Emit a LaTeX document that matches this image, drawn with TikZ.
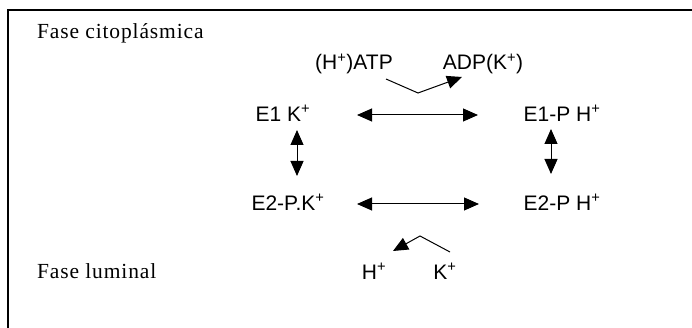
\documentclass[tikz,border=0pt]{standalone}
\usepackage{fontspec}
\setmainfont{Liberation Serif}
\newfontfamily\labelfont{Liberation Sans}
\newfontfamily\phasefont[LetterSpace=4]{Liberation Serif}
\usetikzlibrary{arrows.meta}
\newcommand{\ion}[1]{\textsuperscript{#1}}
\tikzset{
  species/.style={font=\labelfont\fontsize{21}{25}\selectfont, inner sep=0pt, anchor=center},
  phase/.style={font=\phasefont\fontsize{21.5}{26}\selectfont, inner sep=0pt, anchor=west},
  react/.style={line width=1pt, {Triangle[length=15pt,width=13pt]}-{Triangle[length=15pt,width=13pt]}},
  flow/.style={line width=1pt, -{Triangle[length=15pt,width=13pt]}},
  frame/.style={line width=1.4pt}
}
\begin{document}
\begin{tikzpicture}[x=1pt,y=-1pt]
  \useasboundingbox (0,0) rectangle (692,328);
  % open frame: top and left edges only
  \coordinate (fbl) at (8,328);
  \coordinate (ftl) at (8,10);
  \coordinate (ftr) at (692,10);
  \draw[frame] (fbl) -- (ftl) -- (ftr);

  % phase labels
  \node[phase] (cito) at (37,33) {Fase citoplásmica};
  \node[phase] (lum) at (37,271) {Fase luminal};

  % enzyme states
  \node[species] (e1k) at (283,113) {E1 K\ion{+}};
  \node[species] (e1h) at (562,113) {E1-P H\ion{+}};
  \node[species] (e2k) at (288,202) {E2-P.K\ion{+}};
  \node[species] (e2h) at (562,202) {E2-P H\ion{+}};

  % cytoplasmic substrates
  \node[species] (atp) at (354,64) {(H\ion{+})ATP};
  \node[species] (adp) at (483,64) {ADP(K\ion{+})};

  % luminal ions
  \node[species] (hl) at (374,271) {H\ion{+}};
  \node[species] (kl) at (445,271) {K\ion{+}};

  % anchor points of the reaction arrows
  \coordinate (t1) at (357,115);
  \coordinate (t2) at (478,115);
  \coordinate (b1) at (357,204);
  \coordinate (b2) at (479,204);
  \coordinate (l1) at (297,130);
  \coordinate (l2) at (297,176);
  \coordinate (r1) at (551,129);
  \coordinate (r2) at (551,174);

  \draw[react] (t1) -- (t2);
  \draw[react] (b1) -- (b2);
  \draw[react] (l1) -- (l2);
  \draw[react] (r1) -- (r2);

  % ATP -> ADP exchange
  \coordinate (a1) at (386,79);
  \coordinate (a2) at (418,93);
  \coordinate (a3) at (462,77);
  \draw[flow] (a1) -- (a2) -- (a3);

  % luminal K+ -> H+ exchange
  \coordinate (k1) at (450,252);
  \coordinate (k2) at (420,236);
  \coordinate (k3) at (393,251);
  \draw[flow] (k1) -- (k2) -- (k3);
\end{tikzpicture}
\end{document}
